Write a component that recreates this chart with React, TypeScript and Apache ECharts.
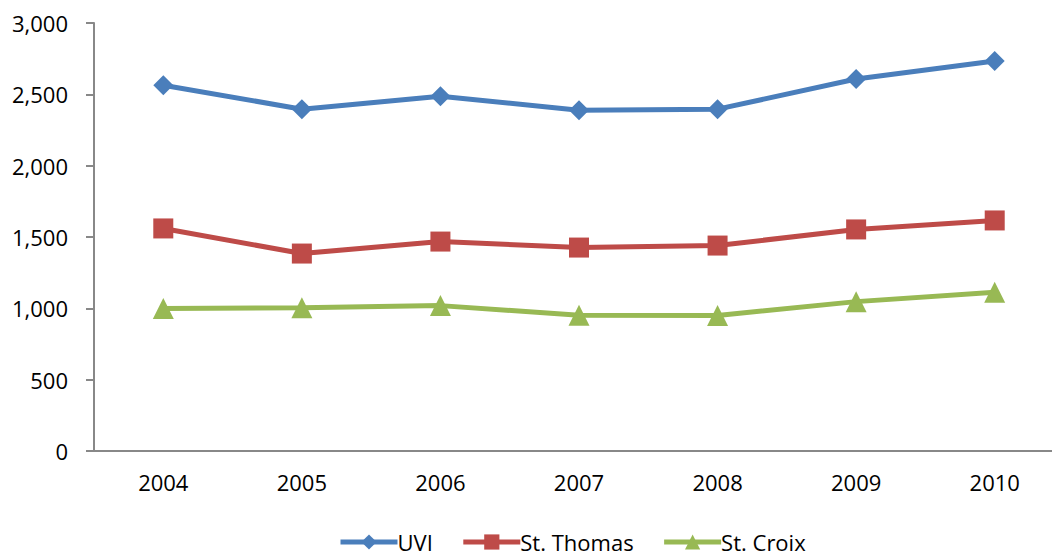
import React, { useEffect, useRef } from "react";
import * as echarts from "echarts";

const years = ["2004", "2005", "2006", "2007", "2008", "2009", "2010"];
const uvi = [2564, 2396, 2487, 2389, 2396, 2607, 2733];
const stThomas = [1560, 1384, 1468, 1426, 1440, 1553, 1616];
const stCroix = [998, 1004, 1019, 952, 950, 1047, 1112];

const FONT = "'Open Sans', Lato, sans-serif";

export default function App() {
  const ref = useRef<HTMLDivElement>(null);
  useEffect(() => {
    document.body.style.overflow = "hidden";
    if (!ref.current) return;
    const chart = echarts.init(ref.current, undefined, { renderer: "svg" });
    const mk = (name: string, data: number[], color: string, symbol: string, size: number) => ({
      name,
      type: "line",
      data,
      symbol,
      symbolSize: size,
      lineStyle: { color, width: 5 },
      itemStyle: { color },
      emphasis: { disabled: true },
    });
    chart.setOption({
      animation: false,
      textStyle: { fontFamily: FONT },
      grid: { left: 94, right: 0, top: 23, bottom: 106, containLabel: false },
      xAxis: {
        type: "category",
        data: years,
        boundaryGap: true,
        axisLine: { lineStyle: { color: "#888888", width: 2 } },
        axisTick: { show: false },
        axisLabel: { color: "#000", fontSize: 22, fontFamily: FONT, margin: 20 },
      },
      yAxis: {
        type: "value",
        min: 0,
        max: 3000,
        interval: 500,
        axisLine: { show: true, lineStyle: { color: "#888888", width: 2 } },
        axisTick: { show: true, length: 8, lineStyle: { color: "#888888", width: 2 } },
        splitLine: { show: false },
        axisLabel: {
          color: "#000",
          fontSize: 22,
          fontFamily: FONT,
          margin: 26,
          formatter: (v: number) => v.toLocaleString("en-US"),
        },
      },
      legend: {
        top: 526,
        left: 333,
        itemWidth: 57,
        itemHeight: 19,
        itemGap: 28,
        lineStyle: { width: 5 },
        textStyle: { color: "#000", fontSize: 22, fontFamily: FONT, padding: [0, 0, 0, -5] },
        data: ["UVI", "St. Thomas", "St. Croix"],
      },
      series: [
        mk("UVI", uvi, "#4A7EBB", "diamond", 20),
        mk("St. Thomas", stThomas, "#BE4B48", "rect", 20),
        mk("St. Croix", stCroix, "#98B954", "triangle", 21),
      ],
    });
    return () => chart.dispose();
  }, []);
  return (
    <div
      ref={ref}
      style={{ position: "fixed", left: 0, top: 0, width: 1064, height: 557, background: "#fff" }}
    />
  );
}
